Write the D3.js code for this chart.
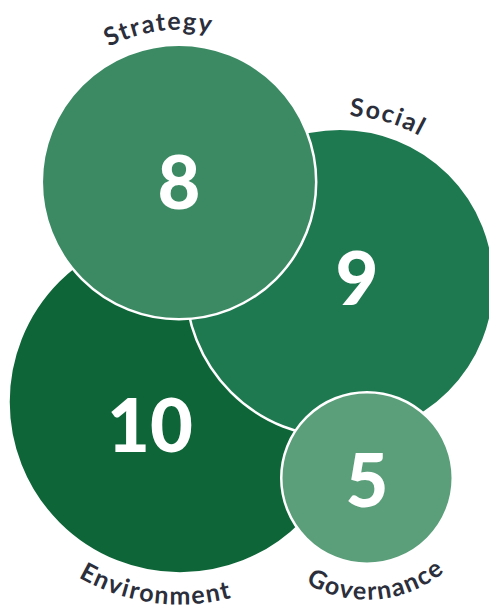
<!DOCTYPE html>
<html lang="en">
<head>
  <meta charset="UTF-8">
  <title>Bubbles</title>
  <style>
    html, body { margin: 0; padding: 0; background: #fff; }
    svg { display: block; }
    .value { font-family: Lato, "Open Sans", sans-serif; font-weight: 900; fill: #fff; }
    .name { font-family: Lato, "Open Sans", sans-serif; font-weight: 700; fill: #2b2e3b; }
  </style>
</head>
<body>
  <svg id="chart" width="489" height="610"></svg>
  <script src="https://d3js.org/d3.v7.min.js"></script>
  <script>
    // data
    const categories = ["Environment", "Social", "Strategy", "Governance"];
    const values = [10, 9, 8, 5];
    const colors = ["#0e6538", "#1e7850", "#3b8a64", "#5a9e7a"];

    // hand placed layout (drawing order = array order)
    const centers = [[180, 402], [340, 283], [179, 182], [367, 478]];
    const valueShift = [[-30, 23], [17, -5], [0, 0], [0, 2]];
    // label angle in degrees, 0 = top, clockwise; "top" labels sit above, "bottom" below
    const labelPos = [
      { angle: 187.5, side: "bottom", gap: 31 },
      { angle: 16, side: "top", gap: 13 },
      { angle: -7.5, side: "top", gap: 15 },
      { angle: 175, side: "bottom", gap: 36 }
    ];

    const svg = d3.select("#chart");
    const r = d3.scaleLinear().domain([0, 10]).range([0, 171.5]);

    const nodes = categories.map((c, i) => ({
      name: c, value: values[i], color: colors[i],
      x: centers[i][0], y: centers[i][1], lab: labelPos[i], shift: valueShift[i]
    }));

    const g = svg.selectAll("g.bubble")
      .data(nodes)
      .join("g")
      .attr("class", "bubble");

    g.append("circle")
      .attr("cx", d => d.x)
      .attr("cy", d => d.y)
      .attr("r", d => r(d.value))
      .attr("fill", d => d.color)
      .attr("stroke", "#fff")
      .attr("stroke-width", 2.5);

    g.append("text")
      .attr("class", "value")
      .attr("x", d => d.x + d.shift[0])
      .attr("y", d => d.y + d.shift[1])
      .attr("dy", "0.36em")
      .attr("text-anchor", "middle")
      .style("font-size", "74px")
      .text(d => d.value);

    function pt(cx, cy, R, deg) {
      const a = deg * Math.PI / 180;
      return [cx + R * Math.sin(a), cy - R * Math.cos(a)];
    }

    function arcPath(d) {
      const R = r(d.value) + d.lab.gap;
      const a = d.lab.angle;
      let p0, p1, sweep;
      if (d.lab.side === "top") {
        p0 = pt(d.x, d.y, R, a - 90); p1 = pt(d.x, d.y, R, a + 90); sweep = 1;
      } else {
        p0 = pt(d.x, d.y, R, a + 90); p1 = pt(d.x, d.y, R, a - 90); sweep = 0;
      }
      return `M${p0[0]},${p0[1]} A${R},${R} 0 0 ${sweep} ${p1[0]},${p1[1]}`;
    }

    const defs = svg.append("defs");
    defs.selectAll("path")
      .data(nodes)
      .join("path")
      .attr("id", (d, i) => "lab" + i)
      .attr("d", arcPath);

    svg.selectAll("text.name")
      .data(nodes)
      .join("text")
      .attr("class", "name")
      .style("font-size", "25px")
      .style("letter-spacing", "1.6px")
      .append("textPath")
      .attr("href", (d, i) => "#lab" + i)
      .attr("startOffset", "50%")
      .attr("text-anchor", "middle")
      .text(d => d.name);
  </script>
</body>
</html>
